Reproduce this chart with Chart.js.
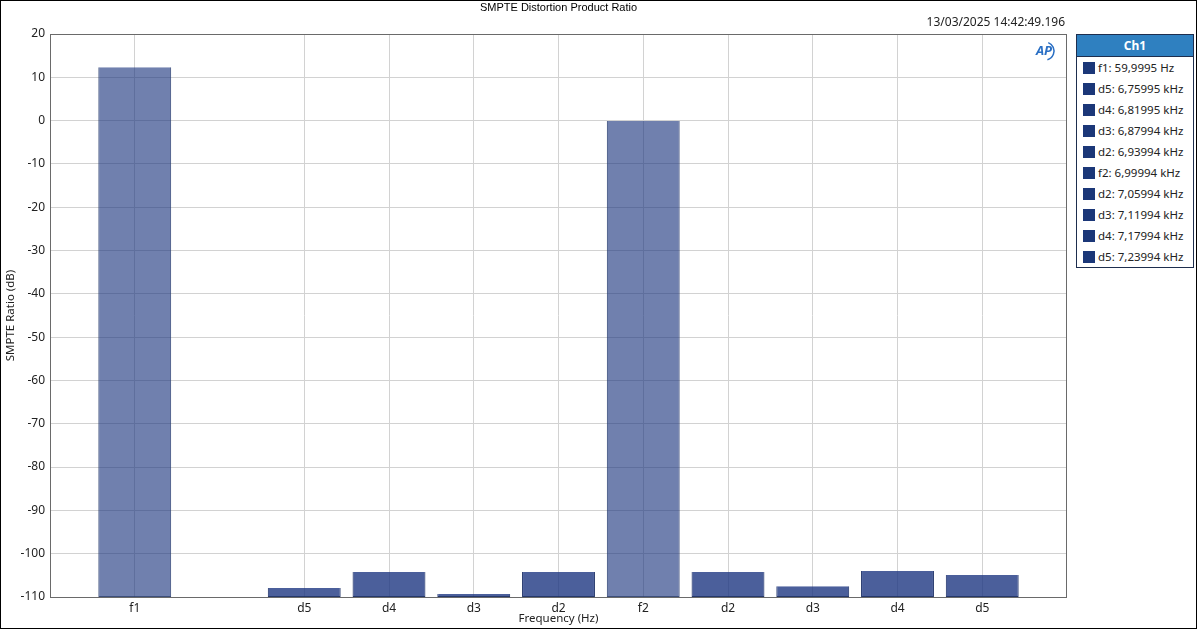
<!DOCTYPE html>
<html>
<head>
<meta charset="utf-8">
<script src="https://cdn.jsdelivr.net/npm/chart.js@4.4.1/dist/chart.umd.min.js"></script>
<style>
  html, body { margin: 0; padding: 0; background: #fff; }
  #frame {
    position: relative; width: 1195px; height: 627px;
    border: 1px solid #000; overflow: hidden; background: #fff;
  }
  #plot { position: absolute; left: 0; top: 0; width: 1070px; height: 628px; }
  #legend {
    position: absolute; left: 1075px; top: 33px; width: 116px;
    border: 1px solid #1e2e4e; background: #fff;
    font-family: "Noto Sans", "Open Sans", sans-serif; font-size: 11.5px; color: #222;
  }
  #legend .head {
    background: #2f80c0; color: #fff; font-weight: bold; text-align: center;
    height: 21px; line-height: 21px; font-size: 12px; border-bottom: 1px solid #1e2e4e;
  }
  #legend .item { height: 21px; line-height: 21px; white-space: nowrap; padding-left: 6px; }
  #legend .sw {
    display: inline-block; width: 12px; height: 12px; background: #1b3778;
    vertical-align: -2px; margin-right: 3px;
  }
</style>
</head>
<body>
<div id="frame">
  <div id="plot"><canvas id="chart"></canvas></div>
  <div id="legend"></div>
</div>
<script>
'use strict';

// ─── Data ────────────────────────────────────────────────────────────────────
// Category slots along the x axis; empty strings are unused slots (no grid line)
const tickLabels = ['', 'f1', '', 'd5', 'd4', 'd3', 'd2', 'f2', 'd2', 'd3', 'd4', 'd5', ''];
// SMPTE ratio per slot in dB (null = no bar)
const ratioDb = [null, 12.3, null, -107.9, -104.2, -109.3, -104.2, 0.0, -104.2, -107.5, -104.0, -104.9, null];
// Legend entries (Ch1)
const legendLabels = [
  'f1: 59,9995 Hz', 'd5: 6,75995 kHz', 'd4: 6,81995 kHz', 'd3: 6,87994 kHz', 'd2: 6,93994 kHz',
  'f2: 6,99994 kHz', 'd2: 7,05994 kHz', 'd3: 7,11994 kHz', 'd4: 7,17994 kHz', 'd5: 7,23994 kHz',
];
const Y_MIN = -110;
const Y_MAX = 20;
const Y_STEP = 10;
const chartTitle = 'SMPTE Distortion Product Ratio';
const timestamp = '13/03/2025 14:42:49.196';

const UI_FONT = '"Noto Sans", "Open Sans", sans-serif';

// ─── Legend (HTML) ───────────────────────────────────────────────────────────
const legendEl = document.getElementById('legend');
legendEl.innerHTML = '<div class="head">Ch1</div>' +
  legendLabels.map(t => `<div class="item"><span class="sw"></span>${t}</div>`).join('');

// ─── Plugins ─────────────────────────────────────────────────────────────────
// Frame around the plot area + title, timestamp and AP mark
const decorPlugin = {
  id: 'decor',
  afterDatasetsDraw(chart) {
    const { ctx, chartArea: a } = chart;
    ctx.save();
    ctx.strokeStyle = '#6a6a6a';
    ctx.lineWidth = 1;
    ctx.strokeRect(a.left + 0.5, a.top + 0.5, a.right - a.left - 1, a.bottom - a.top);

    ctx.fillStyle = '#000';
    ctx.font = '11px "Liberation Sans", Arial, sans-serif';
    ctx.textAlign = 'center';
    ctx.textBaseline = 'middle';
    ctx.fillText(chartTitle, (a.left + a.right) / 2, 7);

    ctx.font = '12px ' + UI_FONT;
    ctx.fillStyle = '#222';
    ctx.textAlign = 'right';
    ctx.fillText(timestamp, a.right - 2, 22);

    // AP logo mark
    ctx.fillStyle = '#2a6fc4';
    ctx.font = 'italic bold 13px ' + UI_FONT;
    ctx.textAlign = 'center';
    ctx.fillText('AP', a.right - 23, 50);
    ctx.strokeStyle = '#2a6fc4';
    ctx.lineWidth = 1.5;
    ctx.beginPath();
    ctx.arc(a.right - 22, 50, 9, -1.2, 1.3);
    ctx.stroke();
    ctx.restore();
  },
};

// ─── Chart ───────────────────────────────────────────────────────────────────
const isFundamental = (i) => tickLabels[i].startsWith('f');

new Chart(document.getElementById('chart').getContext('2d'), {
  type: 'bar',
  data: {
    labels: tickLabels,
    datasets: [{
      data: ratioDb.map(v => (v === null ? null : [Y_MIN, v])),
      backgroundColor: ratioDb.map((_, i) => isFundamental(i) ? 'rgba(25, 50, 125, 0.62)' : 'rgba(30, 55, 130, 0.8)'),
      borderColor: ratioDb.map((_, i) => isFundamental(i) ? 'rgba(40, 60, 110, 0.9)' : 'rgba(25, 45, 100, 0.95)'),
      borderWidth: 1,
      borderSkipped: 'start',
      barPercentage: 0.86,
      categoryPercentage: 1,
    }],
  },
  options: {
    animation: false,
    responsive: true,
    maintainAspectRatio: false,
    layout: { padding: { left: 0, top: 33, right: 4, bottom: 0 } },
    plugins: {
      legend: { display: false },
      tooltip: { enabled: false },
    },
    scales: {
      x: {
        offset: false,
        afterFit: (s) => { s.height = 32; },
        grid: {
          offset: false,
          drawTicks: false,
          color: (c) => (c.tick && c.tick.label ? '#d2d2d2' : 'rgba(0,0,0,0)'),
        },
        border: { display: false },
        ticks: { color: '#222', font: { family: UI_FONT, size: 12 }, padding: 4, autoSkip: false, maxRotation: 0 },
        title: {
          display: true, text: 'Frequency (Hz)', color: '#222',
          font: { family: UI_FONT, size: 11.5 }, padding: { top: 0, bottom: 3 },
        },
      },
      y: {
        min: Y_MIN,
        max: Y_MAX,
        afterFit: (s) => { s.width = 49; },
        grid: { drawTicks: false, color: '#d2d2d2' },
        border: { display: false },
        ticks: { stepSize: Y_STEP, color: '#222', font: { family: UI_FONT, size: 12 }, padding: 5 },
        title: {
          display: true, text: 'SMPTE Ratio (dB)', color: '#222',
          font: { family: UI_FONT, size: 11.5 }, padding: { top: 3, bottom: 0 },
        },
      },
    },
  },
  plugins: [decorPlugin],
});
</script>
</body>
</html>
